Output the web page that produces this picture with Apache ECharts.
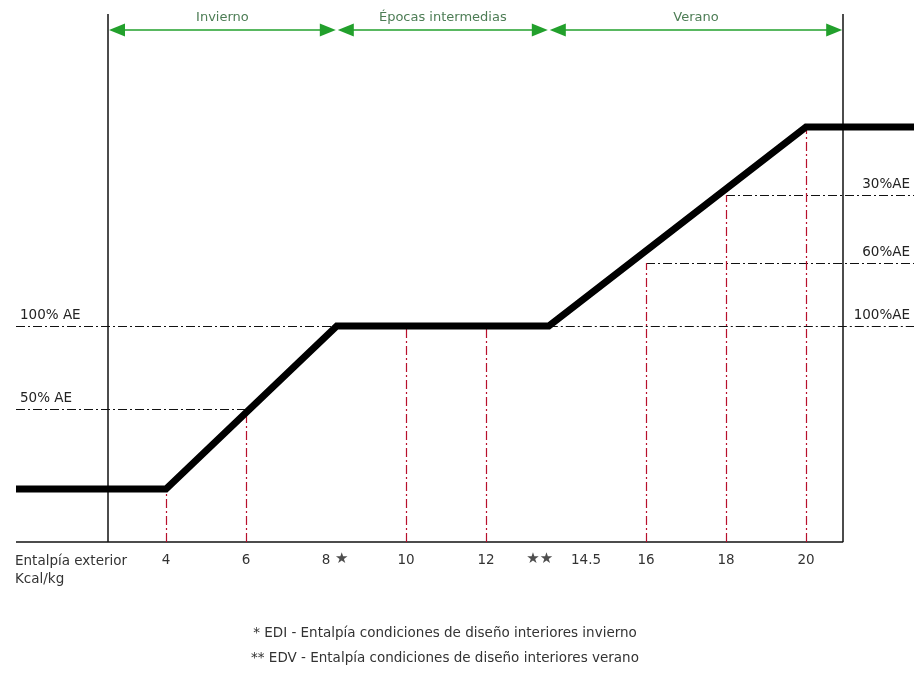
<!DOCTYPE html>
<html>
<head>
<meta charset="utf-8">
<script src="https://cdn.jsdelivr.net/npm/echarts@6/dist/echarts.min.js"></script>
<style>html,body{margin:0;padding:0;background:#fff}#c{width:922px;height:682px}</style>
</head>
<body>
<div id="c"></div>
<script>
// ---- data ----
const enthalpyTicks = [4, 6, 8, 10, 12, 14.5, 16, 18, 20];
const EDI = 8.27;   // * design enthalpy, winter
const EDV = 13.57;  // ** design enthalpy, summer
const curveX = [0.25, 4, EDI, EDV, 20, 22.7];
const curveY = [10.6, 10.6, 43.2, 43.2, 83, 83];
const seasonNames = ['Invierno', 'Épocas intermedias', 'Verano'];
const seasonBounds = [2.55, EDI, EDV, 20.93];
const redX = [4, 6, 10, 12, 16, 18, 20];
const redTop = [10.6, 26.6, 43.2, 43.2, 55.8, 69.4, 83];
const levelNames = ['Min. AE', '50% AE', '100% AE', '100%AE', '60%AE', '30%AE', 'Min. AE'];
const levelY = [10.6, 26.6, 43.2, 43.2, 55.8, 69.4, 83];
const levelFrom = [0.25, 0.25, 0.25, EDV, 16, 18, 20];
const levelTo = [4, 6, EDV, 22.7, 22.7, 22.7, 22.7];
const levelSide = ['left', 'left', 'left', 'right', 'right', 'right', 'right'];
const levelDrawn = [false, true, true, true, true, true, false];
const axisTitle = 'Entalpía exterior\nKcal/kg';
const footnotes = ['* EDI - Entalpía condiciones de diseño interiores invierno',
                   '** EDV - Entalpía condiciones de diseño interiores verano'];
const starMarks = [{x: EDI, text: '★'}, {x: EDV, text: '★★'}];
const yBase = 0, yTop = 105.6, yArrow = 102.4;
const xAxisStart = 0.25, xAxisEnd = 20.93, yAxisX = 2.55;

// ---- chart ----
const FONT = 'DejaVu Sans';
const FS = 13.5;
const PX_PER_X = 40; // 910px grid / 22.75 units
const ARROW_LEN = 16;
const arrowInset = (ARROW_LEN / 2 + 1) / PX_PER_X;
const chart = echarts.init(document.getElementById('c'), null, {renderer: 'canvas'});
const noEmph = {disabled: true};
function mlSeries(data, lineStyle, extra) {
  return Object.assign({
    type: 'line', data: [], silent: true,
    markLine: {silent: true, animation: false, symbol: 'none', emphasis: noEmph,
               lineStyle: lineStyle, label: {show: false}, data: data}
  }, extra || {});
}
const dashDot = [9, 3, 2, 3];

const frameData = [
  [{coord: [xAxisStart, yBase]}, {coord: [xAxisEnd, yBase]}],
  [{coord: [yAxisX, yBase]}, {coord: [yAxisX, yTop]}],
  [{coord: [xAxisEnd, yBase]}, {coord: [xAxisEnd, yTop]}]
];
const seasonData = seasonNames.map((n, i) => [
  {name: n, coord: [seasonBounds[i] + arrowInset, yArrow]},
  {coord: [seasonBounds[i + 1] - arrowInset, yArrow]}
]);
const designData = [EDI, EDV].map(x => [{coord: [x, -1.2]}, {coord: [x, 106.2]}]);
const redData = redX.map((x, i) => [{coord: [x, yBase]}, {coord: [x, redTop[i]]}]);
const levelData = levelNames.map((n, i) => [
  {name: n, coord: [levelFrom[i], levelY[i]],
   lineStyle: levelDrawn[i] ? {} : {opacity: 0},
   label: {show: true, formatter: '{b}',
           position: levelSide[i] === 'left' ? 'insideStartTop' : 'insideEndTop',
           distance: levelDrawn[i] ? 4 : 9,
           color: '#222', fontFamily: FONT, fontSize: FS}},
  {coord: [levelTo[i], levelY[i]]}
]);

const option = {
  animation: false,
  backgroundColor: '#fff',
  grid: {left: 6, right: 6, top: 12, bottom: 140},
  xAxis: {
    type: 'value', min: 0, max: 22.75,
    axisLine: {show: false}, axisTick: {show: false}, splitLine: {show: false},
    axisLabel: {customValues: enthalpyTicks, formatter: v => String(v), margin: 11,
                color: '#333', fontFamily: FONT, fontSize: FS}
  },
  yAxis: {type: 'value', min: 0, max: 106, show: false},
  series: [
    mlSeries(frameData, {color: '#111', width: 1.5, type: 'solid'}, {z: 2}),
    mlSeries(seasonData, {color: '#22a02c', width: 1.6, type: 'solid'}, {z: 3}),
    mlSeries(levelData, {color: '#111', width: 1.2, type: dashDot}, {z: 3}),
    mlSeries(redData, {color: '#b8102c', width: 1.2, type: dashDot}, {z: 3}),
    mlSeries(designData, {color: '#111', width: 3, type: [5, 3]}, {z: 4}),
    {
      type: 'line', z: 10, silent: true, symbol: 'none',
      data: curveX.map((x, i) => [x, curveY[i]]),
      lineStyle: {color: '#000', width: 7, join: 'miter', cap: 'butt'}
    },
    {
      type: 'scatter', z: 11, silent: true, symbolSize: 0,
      data: starMarks.map(s => ({value: [s.x, yBase], name: s.text})),
      label: {show: true, formatter: '{b}', position: 'bottom', distance: 10,
              color: '#222', fontFamily: FONT, fontSize: 15}
    }
  ],
  graphic: [
    {type: 'text', left: 15, top: 552,
     style: {text: axisTitle, font: FS + 'px "DejaVu Sans"', fill: '#333', lineHeight: 18}},
    {type: 'text', x: 445, y: 633,
     style: {text: footnotes[0], font: '13.5px "DejaVu Sans"', fill: '#333', align: 'center', verticalAlign: 'middle'}},
    {type: 'text', x: 445, y: 658,
     style: {text: footnotes[1], font: '13.5px "DejaVu Sans"', fill: '#333', align: 'center', verticalAlign: 'middle'}}
  ]
};
// season labels on arrows
option.series[1].markLine.symbol = ['triangle', 'triangle'];
option.series[1].markLine.symbolSize = [13, ARROW_LEN];
option.series[1].markLine.itemStyle = {color: '#22a02c'};
option.series[1].markLine.label = {show: true, formatter: '{b}', position: 'insideMiddleTop', distance: 6,
                                   color: '#4d7d55', fontFamily: FONT, fontSize: 13};
// star offsets relative to the design lines
option.series[6].data[0].label = {offset: [5, 0]};
option.series[6].data[1].label = {offset: [-9, 0]};
chart.setOption(option);
</script>
</body>
</html>
